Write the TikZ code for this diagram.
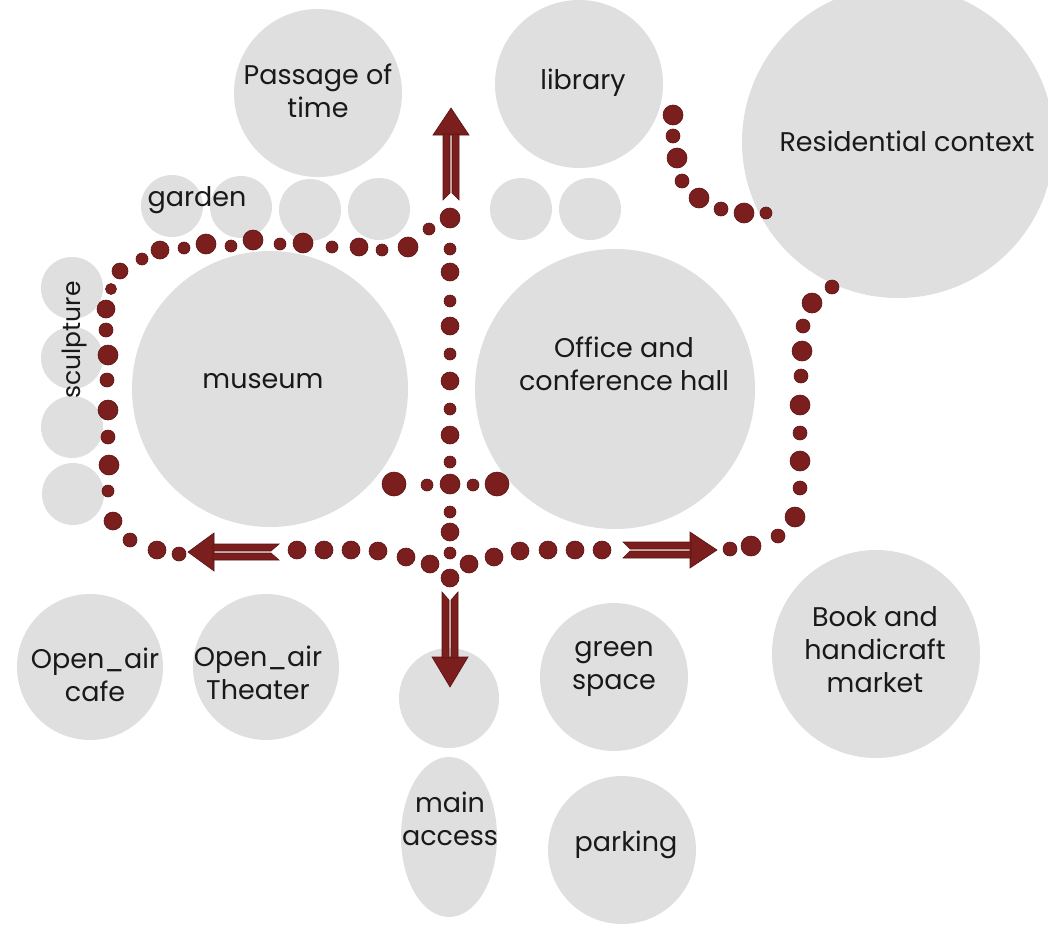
\documentclass[tikz,border=0pt]{standalone}
\usepackage{fontspec}
\setmainfont{Poppins}
\usetikzlibrary{shapes.geometric}
\definecolor{bubble}{RGB}{223,223,223}
\definecolor{dotred}{RGB}{122,30,30}
\definecolor{dotedge}{RGB}{92,18,18}
\begin{document}
\begin{tikzpicture}[x=1pt,y=-1pt,
 bub/.style={circle,fill=bubble,inner sep=0pt},
 lbl/.style={align=center,font=\fontsize{27}{33}\selectfont,inner sep=0pt,text=black!90},
 dt/.style={fill=dotred,draw=dotedge,line width=0.6pt},
 arr/.style={fill=dotred,draw=dotedge,line width=0.6pt,line join=miter}]
\useasboundingbox (0,0) rectangle (1048,926);
\clip (0,0) rectangle (1048,926);
% bubbles
\node[bub,minimum size=168] (passage) at (318,93) {};
\node[bub,minimum size=168] (library) at (579,84) {};
\node[bub,minimum size=312] (resid) at (898,142) {};
\node[bub,minimum size=62] (g1) at (172,206) {};
\node[bub,minimum size=62] (g2) at (241,207) {};
\node[bub,minimum size=62] (g3) at (310,210) {};
\node[bub,minimum size=62] (g4) at (379,209) {};
\node[bub,minimum size=62] (l1) at (521,209) {};
\node[bub,minimum size=62] (l2) at (590,209) {};
\node[bub,minimum size=276] (museum) at (270,389) {};
\node[bub,minimum size=280] (office) at (615,389) {};
\node[bub,minimum size=62] (s1) at (72,288) {};
\node[bub,minimum size=62] (s2) at (72,358) {};
\node[bub,minimum size=62] (s3) at (72,427) {};
\node[bub,minimum size=62] (s4) at (73,494) {};
\node[bub,minimum size=146] (cafe) at (90,667) {};
\node[bub,minimum size=146] (theater) at (266,667) {};
\node[bub,minimum size=100] (gate) at (449,698) {};
\node[ellipse,fill=bubble,inner sep=0pt,minimum width=96,minimum height=160] (access) at (449,837) {};
\node[bub,minimum size=148] (green) at (614,677) {};
\node[bub,minimum size=148] (parking) at (622,850) {};
\node[bub,minimum size=208] (market) at (876,654) {};
% labels
\node[lbl] (tpassage) at (318,91) {Passage of\\time};
\node[lbl] (tlibrary) at (583,83) {library};
\node[lbl] (tresid) at (907,141) {Residential context};
\node[lbl] (tgarden) at (197,200) {garden};
\node[lbl,rotate=90,font=\fontsize{25}{33}\selectfont] (tsculpt) at (74,340) {sculpture};
\node[lbl] (tmuseum) at (263,381) {museum};
\node[lbl] (toffice) at (624,364) {Office and\\conference hall};
\node[lbl] (tcafe) at (95,675) {Open\_air\\cafe};
\node[lbl] (ttheater) at (258,673) {Open\_air\\Theater};
\node[lbl] (tgreen) at (614,669) {green\\space};
\node[lbl] (tmarket) at (875,650) {Book and\\handicraft\\market};
\node[lbl] (taccess) at (450,819) {main\\access};
\node[lbl] (tparking) at (626,845) {parking};
% dotted paths
\foreach \x/\y/\r in {
 120/271/8, 142/259/6, 160/250/9, 184/248/6, 206/244/10, 231/246/6, 253/240/10,
 280/244/6, 303/243/10, 332/247/6, 359/247/9, 382/250/6, 408/247/10, 429/229/6,
 111/289/5.5, 106/309/9, 106/330/7, 108/355/10, 107/380/7, 108/410/10, 108/437/7,
 109/465/10, 108/491/6, 113/521/9, 130/540/7, 157/550/9, 179/554/7,
 297/550/9, 324/550/9, 351/550/9, 378/551/9, 406/557/9, 430/564/9, 450/553/6,
 450/578/9, 469/564/9, 494/557/9, 520/551/9, 548/550/9, 575/550/9, 602/550/9,
 730/549/7, 751/546/10, 778/536/7, 795/517/10, 800/488/7, 800/461/10, 800/433/7,
 800/405/10, 801/376/7, 802/351/10, 803/326/7, 812/303/10, 832/287/7,
 450/218/10, 450/249/6, 450/272/9, 450/301/6, 450/326/9, 450/354/6, 450/381/9,
 450/409/6, 450/435/9, 450/462/6, 450/484/10, 450/512/6, 450/532/9,
 394/484/12, 427/485/6, 473/485/6, 497/484/12,
 673/115/10, 673/136/7, 677/158/10, 682/181/7, 699/198/10, 721/209/7, 744/213/10, 766/213/6}
 \draw[dt] (\x,\y) circle[radius=\r];
% arrows
% up
\draw[arr] (451,108) -- (469,135) -- (433,135) -- cycle;
\draw[arr] (443,134) -- (450,134) -- (450,193) -- (443,200) -- cycle;
\draw[arr] (452,134) -- (459,134) -- (459,200) -- (452,193) -- cycle;
% down
\draw[arr] (450,687) -- (468,657) -- (432,657) -- cycle;
\draw[arr] (442,658) -- (449,658) -- (449,600) -- (442,592) -- cycle;
\draw[arr] (451,658) -- (458,658) -- (458,592) -- (451,600) -- cycle;
% left
\draw[arr] (188,552) -- (214,533) -- (214,571) -- cycle;
\draw[arr] (213,544) -- (213,551) -- (271,551) -- (279,544) -- cycle;
\draw[arr] (213,553) -- (213,560) -- (279,560) -- (271,553) -- cycle;
% right
\draw[arr] (717,550) -- (690,532) -- (690,568) -- cycle;
\draw[arr] (691,542) -- (691,549) -- (630,549) -- (623,542) -- cycle;
\draw[arr] (691,551) -- (691,558) -- (623,558) -- (630,551) -- cycle;
\end{tikzpicture}
\end{document}
